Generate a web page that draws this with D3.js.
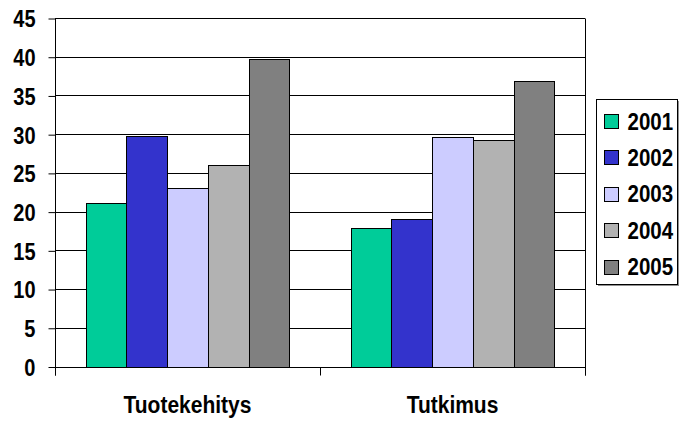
<!DOCTYPE html>
<html><head><meta charset="utf-8">
<script src="https://cdn.jsdelivr.net/npm/d3@7"></script>
<style>body{margin:0;background:#fff}svg{display:block}text{font-family:"Liberation Sans",Arial,sans-serif;font-weight:bold;fill:#000}</style>
</head><body><svg id="c" width="681" height="423"></svg>
<script>
const categories = ["Tuotekehitys", "Tutkimus"];
const seriesNames = ["2001", "2002", "2003", "2004", "2005"];
const values2001 = [21.1, 17.9];
const values2002 = [29.7, 19.1];
const values2003 = [23.1, 29.6];
const values2004 = [26.0, 29.3];
const values2005 = [39.7, 36.9];
const seriesValues = [values2001, values2002, values2003, values2004, values2005];
const colors = ["#00CC99", "#3333CC", "#CCCCFF", "#B2B2B2", "#808080"];
const yTicks = [0, 5, 10, 15, 20, 25, 30, 35, 40, 45];

const SY = 1.17; // vertical stretch of text
const svg = d3.select("#c");
const L = 55, R = 585, T = 18, B = 366.5;
const y = d3.scaleLinear().domain([0, 45]).range([B, T]);
const x0 = d3.scaleBand().domain(categories).range([L, R]).paddingInner(0).paddingOuter(0);
const x1 = d3.scaleBand().domain(seriesNames).range([0, x0.bandwidth()]).paddingInner(0).paddingOuter(0.75);

const crisp = v => Math.round(v) + 0.5;

// gridlines
svg.append("g").selectAll("line").data(yTicks.filter(d => d > 0)).join("line")
  .attr("x1", L).attr("x2", R).attr("y1", d => crisp(y(d))).attr("y2", d => crisp(y(d)))
  .attr("stroke", "#000").attr("stroke-width", 1);
// right border
svg.append("line").attr("x1", crisp(R)).attr("x2", crisp(R)).attr("y1", crisp(y(45))).attr("y2", crisp(B) + 8)
  .attr("stroke", "#000");

// bars
const g = svg.append("g");
categories.forEach((c, ci) => {
  seriesNames.forEach((s, si) => {
    const v = seriesValues[si][ci];
    g.append("rect")
      .attr("x", Math.round(x0(c) + x1(s)) + 0.5)
      .attr("y", Math.round(y(v)) + 0.5)
      .attr("width", Math.round(x0(c) + x1(s) + x1.bandwidth()) - Math.round(x0(c) + x1(s)))
      .attr("height", Math.round(B) - Math.round(y(v)))
      .attr("fill", colors[si]).attr("stroke", "#000").attr("stroke-width", 1);
  });
});

// y axis
const yAxis = d3.axisLeft(y).tickValues(yTicks).tickSize(7).tickPadding(13).tickFormat(d3.format("d"));
const ya = svg.append("g").attr("transform", `translate(${crisp(L)},0.5)`).call(yAxis);
ya.select(".domain").remove();
ya.selectAll(".tick line").attr("stroke", "#000");
ya.selectAll(".tick text").attr("font-size", 20).attr("dy", "0.358em").attr("transform", `scale(1,${SY})`);
svg.append("line").attr("x1", crisp(L)).attr("x2", crisp(L)).attr("y1", crisp(T)).attr("y2", crisp(B) + 8).attr("stroke", "#000");

// x axis
svg.append("line").attr("x1", L).attr("x2", R + 1).attr("y1", crisp(B)).attr("y2", crisp(B)).attr("stroke", "#000");
const bounds = [L, x0("Tutkimus"), R];
svg.append("g").selectAll("line").data(bounds).join("line")
  .attr("x1", d => crisp(d)).attr("x2", d => crisp(d)).attr("y1", crisp(B)).attr("y2", crisp(B) + 8)
  .attr("stroke", "#000");
svg.append("g").selectAll("text").data(categories).join("text")
  .attr("transform", d => `translate(${x0(d) + x0.bandwidth() / 2},404) scale(1,${SY})`)
  .attr("dy", "0.358em")
  .attr("text-anchor", "middle").attr("font-size", 21).text(d => d);

// legend
const lg = svg.append("g");
lg.append("rect").attr("x", 598).attr("y", 101).attr("width", 81).attr("height", 185).attr("fill", "#909090");
lg.append("rect").attr("x", 596.5).attr("y", 99.5).attr("width", 81).attr("height", 185).attr("fill", "#fff").attr("stroke", "#000");
seriesNames.forEach((s, i) => {
  const cy = 121 + i * 36.4;
  lg.append("rect").attr("x", 604.5).attr("y", Math.round(cy - 7) + 0.5).attr("width", 14).attr("height", 14)
    .attr("fill", colors[i]).attr("stroke", "#000");
  lg.append("text").attr("transform", `translate(627.5,${cy}) scale(1,${SY})`)
    .attr("dy", "0.358em").attr("font-size", 20.5).text(s);
});
</script></body></html>
